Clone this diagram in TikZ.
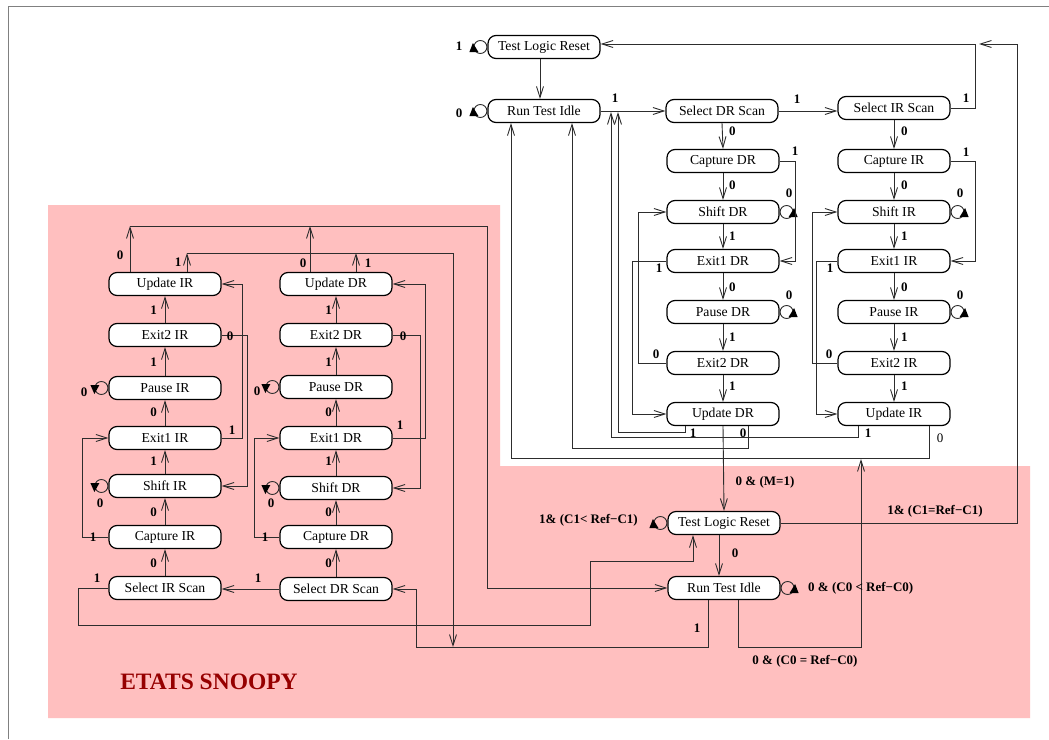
\documentclass[tikz,border=0pt]{standalone}
\usepackage{fontspec}
\setmainfont{Liberation Serif}
\usetikzlibrary{arrows.meta}
\definecolor{snoopy}{RGB}{255,191,191}
\definecolor{wire}{RGB}{45,45,45}
\definecolor{titlered}{RGB}{150,0,0}

% self loops: circle beside a state with a filled triangle
\newcommand\selfloopE[1]{%
  \draw[conn] ([xshift=7pt]#1.east) circle[radius=6.5pt];
  \fill (#1.east) ++(9,5) -- ++(9,0) -- ++(-3.5,-9) -- cycle;}
\newcommand\selfloopWu[1]{%
  \draw[conn] ([xshift=-7pt]#1.west) circle[radius=6.5pt];
  \fill (#1.west) ++(-9,5) -- ++(-9,0) -- ++(3.5,-9) -- cycle;}
\newcommand\selfloopWd[1]{%
  \draw[conn] ([xshift=-7pt]#1.west) circle[radius=6.5pt];
  \fill (#1.west) ++(-9,-3) -- ++(-9,0) -- ++(4,9) -- cycle;}

\begin{document}
\begin{tikzpicture}[x=1pt,y=-1pt,
  state/.style={draw=black, line width=1.2pt, fill=white, rounded corners=8pt,
    minimum width=112pt, minimum height=23pt, inner sep=0pt,
    font=\fontsize{13.7}{15}\selectfont},
  conn/.style={draw=wire, line width=0.9pt},
  arr/.style={conn, -{Straight Barb[length=11pt,width=7pt]}},
  lbl/.style={inner sep=0pt, font=\bfseries\fontsize{13}{14}\selectfont},
  lbln/.style={inner sep=0pt, font=\fontsize{13}{14}\selectfont}]

\useasboundingbox (0,0) rectangle (1049,739);
\fill[white] (0,0) rectangle (1049,739);

% shaded area of the Snoopy states
\fill[snoopy] (48,205) -- (500,205) -- (500,466) -- (1030,466) -- (1030,718) -- (48,718) -- cycle;
\draw[gray, line width=1pt] (8,739) -- (8,6) -- (1049,6);

% ---------- standard TAP controller ----------
\node[state] (tlrA) at (544,47) {Test Logic Reset};
\node[state] (rtiA) at (544,111) {Run Test Idle};
\node[state] (sdrA) at (722,111) {Select DR Scan};
\node[state] (sirA) at (894,108) {Select IR Scan};

\node[state] (capDR) at (723,161) {Capture DR};
\node[state] (shDR)  at (723,212) {Shift DR};
\node[state] (exaDR) at (723,261) {Exit1 DR};
\node[state] (paDR)  at (723,312) {Pause DR};
\node[state] (exbDR) at (723,363) {Exit2 DR};
\node[state] (upDR)  at (723,414) {Update DR};

\node[state] (capIR) at (894,161) {Capture IR};
\node[state] (shIR)  at (894,212) {Shift IR};
\node[state] (exaIR) at (894,261) {Exit1 IR};
\node[state] (paIR)  at (894,312) {Pause IR};
\node[state] (exbIR) at (894,363) {Exit2 IR};
\node[state] (upIR)  at (894,414) {Update IR};

% ---------- Snoopy states ----------
\node[state] (sUpIR)  at (165,284) {Update IR};
\node[state] (sExbIR) at (165,335) {Exit2 IR};
\node[state] (sPaIR)  at (165,388) {Pause IR};
\node[state] (sExaIR) at (165,438) {Exit1 IR};
\node[state] (sShIR)  at (165,486) {Shift IR};
\node[state] (sCapIR) at (165,537) {Capture IR};
\node[state] (sSelIR) at (165,588) {Select IR Scan};

\node[state] (sUpDR)  at (336,284) {Update DR};
\node[state] (sExbDR) at (336,335) {Exit2 DR};
\node[state] (sPaDR)  at (336,387) {Pause DR};
\node[state] (sExaDR) at (336,438) {Exit1 DR};
\node[state] (sShDR)  at (336,488) {Shift DR};
\node[state] (sCapDR) at (336,537) {Capture DR};
\node[state] (sSelDR) at (336,589) {Select DR Scan};

\node[state] (tlrB) at (724,523) {Test Logic Reset};
\node[state] (rtiB) at (724,588) {Run Test Idle};

\node[inner sep=0pt, text=titlered, font=\bfseries\fontsize{23.5}{26}\selectfont] (ttl) at (209,682) {ETATS SNOOPY};

% ---------- self loops ----------
\selfloopWu{tlrA}
\selfloopWu{rtiA}
\selfloopE{shDR}
\selfloopE{paDR}
\selfloopE{shIR}
\selfloopE{paIR}
\selfloopWd{sPaIR}
\selfloopWd{sShIR}
\selfloopWd{sPaDR}
\selfloopWd{sShDR}
\selfloopWu{tlrB}
\selfloopE{rtiB}

% ---------- standard controller transitions ----------
\draw[arr] ([xshift=-4pt]tlrA.south) -- ([xshift=-4pt]rtiA.north);
\draw[arr] (rtiA.east) -- (sdrA.west);
\draw[arr] (sdrA.east) -- (sdrA.east -| sirA.west);
\draw[arr] (sirA.east) -| (975,44) -- ([yshift=3pt]tlrA.east);

\draw[arr] (sdrA.south) -- (capDR.north);
\draw[arr] (capDR) -- (shDR);
\draw[arr] (shDR) -- (exaDR);
\draw[arr] (exaDR) -- (paDR);
\draw[arr] (paDR) -- (exbDR);
\draw[arr] (exbDR) -- (upDR);
\draw[arr] (capDR.east) -- ++(16,0) |- (exaDR.east);
\draw[arr] (exbDR.west) -- ++(-28,0) |- (shDR.west);
\draw[arr] (exaDR.west) -- ++(-34,0) |- (upDR.west);

\draw[arr] (sirA.south) -- (capIR.north);
\draw[arr] (capIR) -- (shIR);
\draw[arr] (shIR) -- (exaIR);
\draw[arr] (exaIR) -- (paIR);
\draw[arr] (paIR) -- (exbIR);
\draw[arr] (exbIR) -- (upIR);
\draw[arr] (capIR.east) -- ++(25,0) |- (exaIR.east);
\draw[arr] (exbIR.west) -- ++(-25,0) |- (shIR.west);
\draw[arr] (exaIR.west) -- ++(-21,0) |- (upIR.west);

% update states back to the idle / select states
\draw[arr] ([xshift=-38pt]upDR.south) |- (618,432) -- (618,112);
\draw[arr] ([xshift=-36pt]upIR.south) |- (611,437) -- (611,112);
\draw[arr] ([xshift=25pt]upDR.south) |- (572,448) -- (rtiA.south -| 572,0);
\draw[arr] ([xshift=35pt]upIR.south) |- (511,458) -- (rtiA.south -| 511,0);

% ---------- Snoopy transitions ----------
\draw[arr] (sSelIR) -- (sCapIR);
\draw[arr] (sCapIR) -- (sShIR);
\draw[arr] (sShIR) -- (sExaIR);
\draw[arr] (sExaIR) -- (sPaIR);
\draw[arr] (sPaIR) -- (sExbIR);
\draw[arr] (sExbIR) -- (sUpIR);
\draw[arr] (sCapIR.west) -- ++(-26,0) |- (sExaIR.west);
\draw[arr] (sExaIR.east) -- ++(21,0) |- (sUpIR.east);
\draw[arr] (sExbIR.east) -- ++(26,0) |- (sShIR.east);

\draw[arr] (sSelDR) -- (sCapDR);
\draw[arr] (sCapDR) -- (sShDR);
\draw[arr] (sShDR) -- (sExaDR);
\draw[arr] (sExaDR) -- (sPaDR);
\draw[arr] (sPaDR) -- (sExbDR);
\draw[arr] (sExbDR) -- (sUpDR);
\draw[arr] (sCapDR.west) -- ++(-25,0) |- (sExaDR.west);
\draw[arr] (sExaDR.east) -- ++(33,0) |- (sUpDR.east);
\draw[arr] (sExbDR.east) -- ++(28,0) |- (sShDR.east);

\draw[arr] (sSelDR.west) -- (sSelDR.west -| sSelIR.east);
\draw[arr] (sSelIR.west) -- ++(-30,0) |- (590,625) |- (693,561) -- ([xshift=-31pt]tlrB.south);

% Snoopy update states leave upwards
\draw[arr] ([xshift=-35pt]sUpIR.north) -- (130,226);
\draw[arr] ([xshift=-26pt]sUpDR.north) -- (310,226);
\draw[arr] (130,226) -| (487,588) -- (rtiB.west);
\draw[arr] ([xshift=22pt]sUpIR.north) -- (187,253);
\draw[arr] ([xshift=20pt]sUpDR.north) -- (356,253);
\draw[arr] (187,253) -| (453,647);

% bottom controller
\draw[arr] (upDR.south) -- (tlrB.north);
\draw[arr] ([xshift=-5pt]tlrB.south) -- ([xshift=-5pt]rtiB.north);
\draw[arr] (tlrB.east) -| (1017,44) -- (979,44);
\draw[arr] ([xshift=-16pt]rtiB.south) |- (416,647) |- (sSelDR.east);
\draw[arr] ([xshift=14pt]rtiB.south) |- (861,647) -- (861,459);

% ---------- labels ----------
\node[lbl] at (459,46) {1};
\node[lbl] at (459,113) {0};
\node[lbl] at (615,98) {1};
\node[lbl] at (797,99) {1};
\node[lbl] at (966,98) {1};

\foreach \yy/\tt in {131/0,185/0,236/1,287/0,337/1,386/1}{
  \node[lbl, anchor=west] at (729,\yy) {\tt};
  \node[lbl, anchor=west] at (901,\yy) {\tt};
}
\node[lbl] at (789,193) {0};
\node[lbl] at (789,295) {0};
\node[lbl] at (960,193) {0};
\node[lbl] at (960,295) {0};
\node[lbl] at (795,151) {1};
\node[lbl] at (966,152) {1};
\node[lbl] at (659,268) {1};
\node[lbl] at (830,268) {1};
\node[lbl] at (656,354) {0};
\node[lbl] at (829,354) {0};
\node[lbl] at (693,433) {1};
\node[lbl] at (743,433) {0};
\node[lbl] at (868,433) {1};
\node[lbln] at (940,438) {0};

\foreach \yy/\tt in {310/1,362/1,412/0,461/1,512/0,563/0}{
  \node[lbl, anchor=east] at (157,\yy) {\tt};
  \node[lbl, anchor=east] at (332,\yy) {\tt};
}
\node[lbl] at (120,255) {0};
\node[lbl] at (178,262) {1};
\node[lbl] at (303,263) {0};
\node[lbl] at (368,263) {1};
\node[lbl] at (84,392) {0};
\node[lbl] at (100,503) {0};
\node[lbl] at (257,391) {0};
\node[lbl] at (271,503) {0};
\node[lbl] at (230,336) {0};
\node[lbl] at (232,430) {1};
\node[lbl] at (403,336) {0};
\node[lbl] at (400,425) {1};
\node[lbl] at (93,537) {1};
\node[lbl] at (265,537) {1};
\node[lbl] at (97,578) {1};
\node[lbl] at (258,578) {1};

\node[lbl] at (765,482) {0 \& (M=1)};
\node[lbl] at (735,553) {0};
\node[lbl, anchor=east] at (638,520) {1\& (C1< Ref−C1)};
\node[lbl] at (935,511) {1\& (C1=Ref−C1)};
\node[lbl, anchor=west] at (808,588) {0 \& (C0 < Ref−C0)};
\node[lbl] at (805,661) {0 \& (C0 = Ref−C0)};
\node[lbl] at (697,628) {1};
\end{tikzpicture}
\end{document}
